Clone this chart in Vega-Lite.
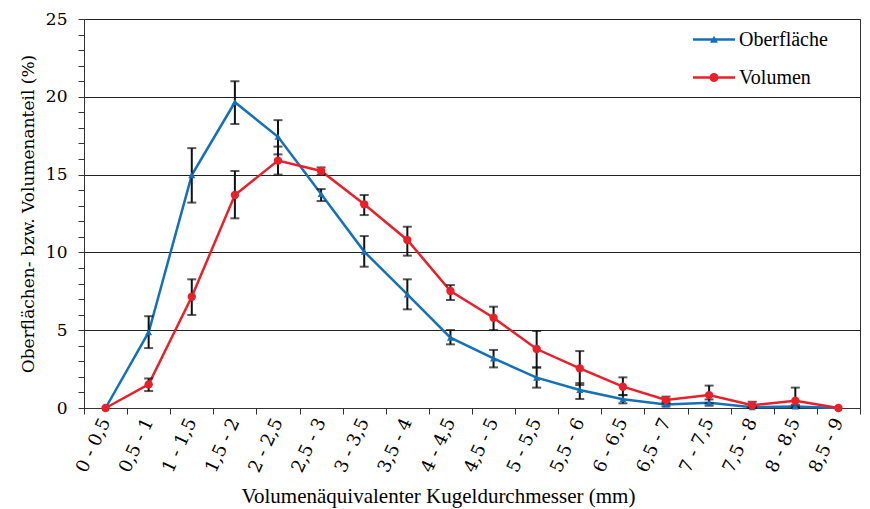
{
  "$schema": "https://vega.github.io/schema/vega-lite/v6.json",
  "width": 776,
  "height": 389,
  "autosize": {"type": "none"},
  "padding": {"left": 84, "top": 19, "right": 10, "bottom": 101},
  "background": "white",
  "config": {
    "view": {"stroke": "#333", "strokeWidth": 1},
    "font": "Liberation Serif"
  },
  "data": {
    "values": [
      {"cat": "0 - 0,5", "series": "Oberfläche", "value": 0, "lo": 0, "hi": 0},
      {"cat": "0,5 - 1", "series": "Oberfläche", "value": 4.87, "lo": 3.85, "hi": 5.9},
      {"cat": "1 - 1,5", "series": "Oberfläche", "value": 14.97, "lo": 13.2, "hi": 16.7},
      {"cat": "1,5 - 2", "series": "Oberfläche", "value": 19.65, "lo": 18.25, "hi": 21.0},
      {"cat": "2 - 2,5", "series": "Oberfläche", "value": 17.43, "lo": 16.3, "hi": 18.5},
      {"cat": "2,5 - 3", "series": "Oberfläche", "value": 13.75, "lo": 13.3, "hi": 14.07},
      {"cat": "3 - 3,5", "series": "Oberfläche", "value": 10.05, "lo": 9.08, "hi": 11.05},
      {"cat": "3,5 - 4", "series": "Oberfläche", "value": 7.3, "lo": 6.34, "hi": 8.27},
      {"cat": "4 - 4,5", "series": "Oberfläche", "value": 4.52, "lo": 4.09, "hi": 5.01},
      {"cat": "4,5 - 5", "series": "Oberfläche", "value": 3.19, "lo": 2.61, "hi": 3.73},
      {"cat": "5 - 5,5", "series": "Oberfläche", "value": 1.95, "lo": 1.31, "hi": 2.61},
      {"cat": "5,5 - 6", "series": "Oberfläche", "value": 1.16, "lo": 0.58, "hi": 1.6},
      {"cat": "6 - 6,5", "series": "Oberfläche", "value": 0.56, "lo": 0.3, "hi": 0.83},
      {"cat": "6,5 - 7", "series": "Oberfläche", "value": 0.23, "lo": 0.1, "hi": 0.4},
      {"cat": "7 - 7,5", "series": "Oberfläche", "value": 0.34, "lo": 0.15, "hi": 0.55},
      {"cat": "7,5 - 8", "series": "Oberfläche", "value": 0.05, "lo": 0, "hi": 0.1},
      {"cat": "8 - 8,5", "series": "Oberfläche", "value": 0.1, "lo": 0.05, "hi": 0.2},
      {"cat": "8,5 - 9", "series": "Oberfläche", "value": 0, "lo": 0, "hi": 0},
      {"cat": "0 - 0,5", "series": "Volumen", "value": 0, "lo": 0, "hi": 0},
      {"cat": "0,5 - 1", "series": "Volumen", "value": 1.52, "lo": 1.09, "hi": 1.9},
      {"cat": "1 - 1,5", "series": "Volumen", "value": 7.15, "lo": 5.98, "hi": 8.27},
      {"cat": "1,5 - 2", "series": "Volumen", "value": 13.69, "lo": 12.19, "hi": 15.23},
      {"cat": "2 - 2,5", "series": "Volumen", "value": 15.9, "lo": 15.0, "hi": 16.8},
      {"cat": "2,5 - 3", "series": "Volumen", "value": 15.23, "lo": 15.0, "hi": 15.46},
      {"cat": "3 - 3,5", "series": "Volumen", "value": 13.09, "lo": 12.4, "hi": 13.69},
      {"cat": "3,5 - 4", "series": "Volumen", "value": 10.8, "lo": 9.79, "hi": 11.65},
      {"cat": "4 - 4,5", "series": "Volumen", "value": 7.52, "lo": 6.94, "hi": 7.9},
      {"cat": "4,5 - 5", "series": "Volumen", "value": 5.8, "lo": 5.01, "hi": 6.51},
      {"cat": "5 - 5,5", "series": "Volumen", "value": 3.79, "lo": 2.6, "hi": 4.95},
      {"cat": "5,5 - 6", "series": "Volumen", "value": 2.55, "lo": 1.48, "hi": 3.66},
      {"cat": "6 - 6,5", "series": "Volumen", "value": 1.37, "lo": 0.83, "hi": 1.97},
      {"cat": "6,5 - 7", "series": "Volumen", "value": 0.51, "lo": 0.3, "hi": 0.73},
      {"cat": "7 - 7,5", "series": "Volumen", "value": 0.83, "lo": 0.3, "hi": 1.44},
      {"cat": "7,5 - 8", "series": "Volumen", "value": 0.18, "lo": 0, "hi": 0.4},
      {"cat": "8 - 8,5", "series": "Volumen", "value": 0.47, "lo": 0, "hi": 1.31},
      {"cat": "8,5 - 9", "series": "Volumen", "value": 0, "lo": 0, "hi": 0}
    ]
  },
  "encoding": {
    "x": {
      "field": "cat",
      "type": "nominal",
      "sort": null,
      "scale": {"paddingInner": 0, "paddingOuter": 0},
      "axis": {
        "title": "Volumenäquivalenter Kugeldurchmesser (mm)",
        "titleFont": "Liberation Serif",
        "titleFontSize": 21,
        "titleFontWeight": "normal",
        "titleColor": "#000",
        "titleX": 354,
        "titleY": 94,
        "titleBaseline": "alphabetic",
        "labelAngle": -65,
        "labelFont": "DejaVu Serif",
        "labelFontSize": 18,
        "labelColor": "#000",
        "labelPadding": 5,
        "tickBand": "extent",
        "tickSize": 6,
        "tickColor": "#333",
        "domainColor": "#333",
        "grid": false
      }
    },
    "y": {
      "field": "value",
      "type": "quantitative",
      "scale": {"domain": [0, 25], "nice": false},
      "axis": {
        "title": "Oberflächen- bzw. Volumenanteil (%)",
        "titleFont": "DejaVu Serif",
        "titleFontSize": 17,
        "titleFontWeight": "normal",
        "titleColor": "#000",
        "titlePadding": 8,
        "values": [0,1,2,3,4,5,6,7,8,9,10,11,12,13,14,15,16,17,18,19,20,21,22,23,24,25],
        "labelExpr": "datum.value % 5 === 0 ? datum.label : ''",
        "labelFont": "DejaVu Serif",
        "labelFontSize": 17,
        "labelColor": "#000",
        "labelPadding": 11,
        "tickSize": 6,
        "tickColor": "#333",
        "domainColor": "#333",
        "grid": true,
        "gridColor": "#222",
        "gridWidth": 1,
        "gridOpacity": {"condition": {"test": "datum.value % 5 === 0", "value": 1}, "value": 0}
      }
    }
  },
  "layer": [
    {
      "mark": {"type": "line", "strokeWidth": 2.5},
      "encoding": {
        "color": {
          "field": "series",
          "type": "nominal",
          "scale": {"domain": ["Oberfläche", "Volumen"], "range": ["#1470BA", "#E8202A"]},
          "legend": {
            "title": null,
            "orient": "none",
            "legendX": 609,
            "legendY": 10,
            "symbolSize": 441,
            "symbolType": "M-1,-0.12H3V0.12H-1Z",
            "symbolStrokeWidth": 0,
            "labelFont": "Liberation Serif",
            "labelFontSize": 20,
            "labelColor": "#000",
            "labelOffset": 25,
            "rowPadding": 17,
            "encode": {
              "symbols": {
                "update": {
                  "shape": {"signal": "datum.value === 'Oberfläche' ? 'M-1,-0.12H3V0.12H-1ZM0.62,0.3L1,-0.36L1.38,0.3Z' : 'M-1,-0.12H3V0.12H-1ZM0.57,0A0.43,0.43 0 1,1 1.43,0A0.43,0.43 0 1,1 0.57,0Z'"},
                  "fill": {"signal": "datum.value === 'Oberfläche' ? '#1470BA' : '#E8202A'"},
                  "fillOpacity": {"value": 1},
                  "opacity": {"value": 1}
                }
              }
            }
          }
        }
      }
    },
    {
      "transform": [{"filter": "datum.hi > datum.lo"}],
      "mark": {"type": "errorbar", "ticks": true, "size": 9, "thickness": 2, "color": "#111"},
      "encoding": {
        "y": {"field": "lo", "type": "quantitative", "title": "Oberflächen- bzw. Volumenanteil (%)"},
        "y2": {"field": "hi"}
      }
    },
    {
      "transform": [{"filter": "datum.series === 'Oberfläche'"}],
      "mark": {"type": "point", "filled": true, "opacity": 1, "shape": "triangle-up", "size": 50},
      "encoding": {
        "color": {"field": "series", "type": "nominal", "legend": null}
      }
    },
    {
      "transform": [{"filter": "datum.series === 'Volumen'"}],
      "mark": {"type": "point", "filled": true, "opacity": 1, "shape": "circle", "size": 70},
      "encoding": {
        "color": {"field": "series", "type": "nominal", "legend": null}
      }
    }
  ]
}
